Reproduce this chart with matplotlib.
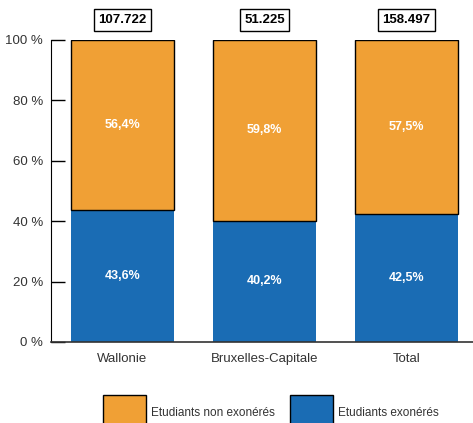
import numpy as np
import matplotlib.pyplot as plt
from matplotlib.patches import Patch

regions = ["Wallonie", "Bruxelles-Capitale", "Total"]
exoneres = [43.6, 40.2, 42.5]
non_exoneres = [56.4, 59.8, 57.5]
totaux = ["107.722", "51.225", "158.497"]

orange = "#F0A035"
blue = "#1A6CB4"

plt.rcParams['font.family'] = ['Liberation Sans', 'DejaVu Sans']

fig = plt.figure(figsize=(4.73, 4.23), dpi=100)
ax = fig.add_axes([0.108, 0.1915, 0.892, 0.714])

x = np.arange(len(regions))
w = 0.725
ax.bar(x, exoneres, w, color=blue, linewidth=0)
ax.bar(x, non_exoneres, w, bottom=exoneres, color=orange, edgecolor="black", linewidth=1)

for i in range(len(regions)):
    ax.text(x[i], exoneres[i] / 2, ("%.1f%%" % exoneres[i]).replace(".", ","),
            ha="center", va="center", color="white", fontweight="bold", fontsize=9)
    ax.text(x[i], exoneres[i] + non_exoneres[i] / 2, ("%.1f%%" % non_exoneres[i]).replace(".", ","),
            ha="center", va="center", color="white", fontweight="bold", fontsize=9)
    ax.text(x[i], 106.6, totaux[i], ha="center", va="center", fontsize=9.5, fontweight="bold",
            clip_on=False,
            bbox=dict(boxstyle="square,pad=0.35", fc="white", ec="black", lw=1))

ax.set_xlim(-0.503, 2.468)
ax.set_ylim(0, 100)
ax.set_yticks([0, 20, 40, 60, 80, 100])
ax.set_yticklabels(["%d %%" % v for v in [0, 20, 40, 60, 80, 100]])
ax.set_xticks(x)
ax.set_xticklabels(regions)
ax.tick_params(axis="y", direction="in", length=10, width=1, labelsize=9.5,
               colors="black", labelcolor="#333333", pad=6)
ax.tick_params(axis="x", length=0, labelsize=9.5, pad=8, labelcolor="#333333")
ax.spines["top"].set_visible(False)
ax.spines["right"].set_visible(False)
ax.spines["left"].set_color("black")
ax.spines["bottom"].set_color("#333333")
ax.spines["bottom"].set_linewidth(1.2)

handles = [Patch(facecolor=orange, edgecolor="black", label="Etudiants non exonérés"),
           Patch(facecolor=blue, edgecolor="black", label="Etudiants exonérés")]
fig.legend(handles=handles, loc="upper center", bbox_to_anchor=(0.573, 0.08), ncol=2,
           frameon=False, fontsize=8.5, handlelength=3.6, handleheight=4.3, borderpad=0,
           columnspacing=1.3, handletextpad=0.45, labelcolor="#333333")

fig.savefig("out.png", dpi=100)
